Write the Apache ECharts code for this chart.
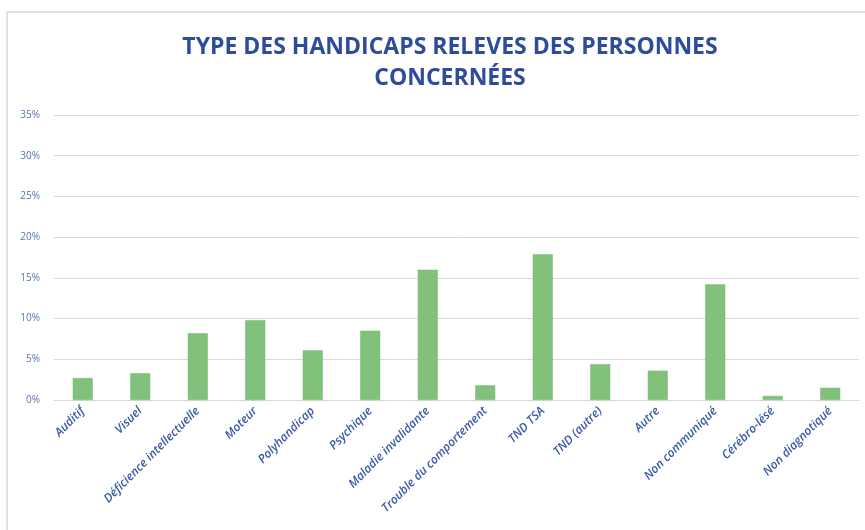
<!DOCTYPE html>
<html>
<head>
<meta charset="utf-8">
<script src="https://cdn.jsdelivr.net/npm/echarts@6/dist/echarts.min.js"></script>
<style>
  html, body { margin: 0; padding: 0; background: #fff; }
  #chart { width: 865px; height: 530px; }
</style>
</head>
<body>
<div id="chart"></div>
<script>
// categories and values (percent)
var categories = ['Auditif', 'Visuel', 'Déficience intellectuelle', 'Moteur', 'Polyhandicap',
  'Psychique', 'Maladie invalidante', 'Trouble du comportement', 'TND TSA', 'TND (autre)',
  'Autre', 'Non communiqué', 'Cérébro-lésé', 'Non diagnotiqué'];
var percentValues = [2.7, 3.3, 8.2, 9.8, 6.1, 8.5, 16.0, 1.8, 17.9, 4.4, 3.6, 14.2, 0.5, 1.5];
var yTicks = [0, 5, 10, 15, 20, 25, 30, 35];

var chart = echarts.init(document.getElementById('chart'));

var option = {
  backgroundColor: '#fff',
  animation: false,
  title: {
    text: 'TYPE DES HANDICAPS RELEVES DES PERSONNES\nCONCERNÉES',
    left: 445,
    top: 27,
    textAlign: 'center',
    textStyle: {
      fontFamily: 'Open Sans',
      fontWeight: 'bold',
      fontSize: 23,
      lineHeight: 31,
      color: '#2f4c9c',
    }
  },
  graphic: [
    {
      type: 'rect',
      shape: { x: 7, y: 12, width: 870, height: 540 },
      style: { fill: 'none', stroke: '#d9d9d9', lineWidth: 1.5 },
      silent: true,
    }
  ],
  grid: {
    left: 54,
    right: 6,
    top: 115,
    bottom: 130,
  },
  xAxis: {
    type: 'category',
    data: categories,
    axisLine: { show: true, lineStyle: { color: '#d9d9d9', width: 1 } },
    axisTick: { show: false },
    axisLabel: {
      interval: 0,
      rotate: 45,
      margin: 9,
      fontFamily: 'Open Sans',
      fontStyle: 'italic',
      fontWeight: 600,
      fontSize: 12,
      color: '#3a5aa8',
    },
  },
  yAxis: {
    type: 'value',
    min: yTicks[0],
    max: yTicks[yTicks.length - 1],
    interval: 5,
    axisLine: { show: false },
    axisTick: { show: false },
    splitLine: { lineStyle: { color: '#d9d9d9', width: 1 } },
    axisLabel: {
      formatter: '{value}%',
      margin: 14,
      fontFamily: 'Open Sans',
      fontSize: 10,
      color: '#5a74b0',
    },
  },
  series: [
    {
      type: 'bar',
      data: percentValues,
      barWidth: 20,
      itemStyle: {
        color: '#82c17c',
        borderColor: '#76b871',
        borderWidth: 0.5,
      },
    }
  ]
};

chart.setOption(option);
</script>
</body>
</html>
